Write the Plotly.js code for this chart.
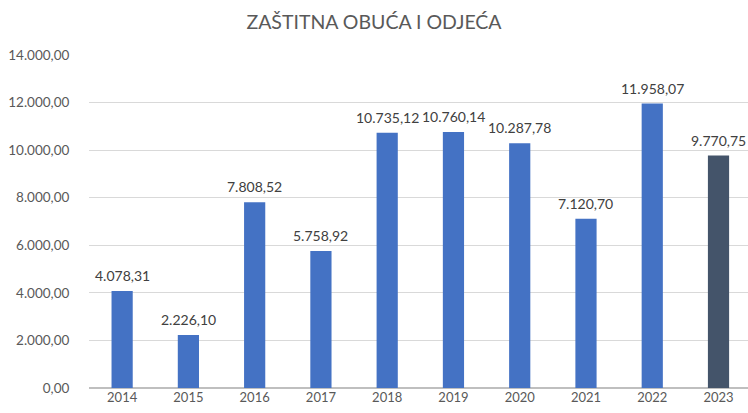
<!DOCTYPE html>
<html>
<head>
<meta charset="utf-8">
<script src="https://cdn.plot.ly/plotly-3.0.1.min.js"></script>
<style>html,body{margin:0;padding:0;background:#fff}#chart{width:748px;height:413px}</style>
</head>
<body>
<div id="chart"></div>
<script>
const years = ["2014","2015","2016","2017","2018","2019","2020","2021","2022","2023"];
const values = [4078.31, 2226.10, 7808.52, 5758.92, 10735.12, 10760.14, 10287.78, 7120.70, 11958.07, 9770.75];
const barColors = ["#4472C4","#4472C4","#4472C4","#4472C4","#4472C4","#4472C4","#4472C4","#4472C4","#4472C4","#44546A"];
const titleText = "ZAŠTITNA OBUĆA I ODJEĆA";

const font = "Lato, 'Open Sans', sans-serif";
const fmt = v => {
  const [int, dec] = v.toFixed(2).split(".");
  return int.replace(/\B(?=(\d{3})+(?!\d))/g, ".") + "," + dec;
};
const annotations = years.map((yr, i) => ({
  x: i, y: values[i], xref: "x", yref: "y", text: fmt(values[i]),
  showarrow: false, yanchor: "bottom", xanchor: "center", yshift: 5,
  font: {family: font, size: 14, color: "#404040"}
}));
Plotly.newPlot("chart", [{
  type: "bar",
  x: years,
  y: values,
  marker: {color: barColors},
  hoverinfo: "skip"
}], {
  width: 748, height: 413,
  margin: {l: 89, r: 0, t: 55, b: 25},
  separators: ",.",
  paper_bgcolor: "#fff", plot_bgcolor: "#fff",
  bargap: 0.68,
  showlegend: false,
  annotations: annotations,
  title: {text: titleText, x: 0.5, xanchor: "center", y: 0.962, yanchor: "top",
          font: {family: font, size: 19.5, color: "#595959"}},
  xaxis: {type: "category", range: [-0.5, 9.445], showgrid: false, showline: false, zeroline: false,
          ticks: "", tickfont: {family: font, size: 13, color: "#595959"}},
  yaxis: {range: [0, 14000], dtick: 2000, tickformat: ",.2f", showgrid: true, gridcolor: "#d9d9d9", gridwidth: 1,
          zeroline: true, zerolinecolor: "#bfbfbf", zerolinewidth: 1.5, showline: false,
          ticks: "outside", ticklen: 16, tickcolor: "rgba(255,255,255,0)", automargin: false,
          tickfont: {family: font, size: 13.5, color: "#595959"}}
}, {displayModeBar: false});
</script>
</body>
</html>
